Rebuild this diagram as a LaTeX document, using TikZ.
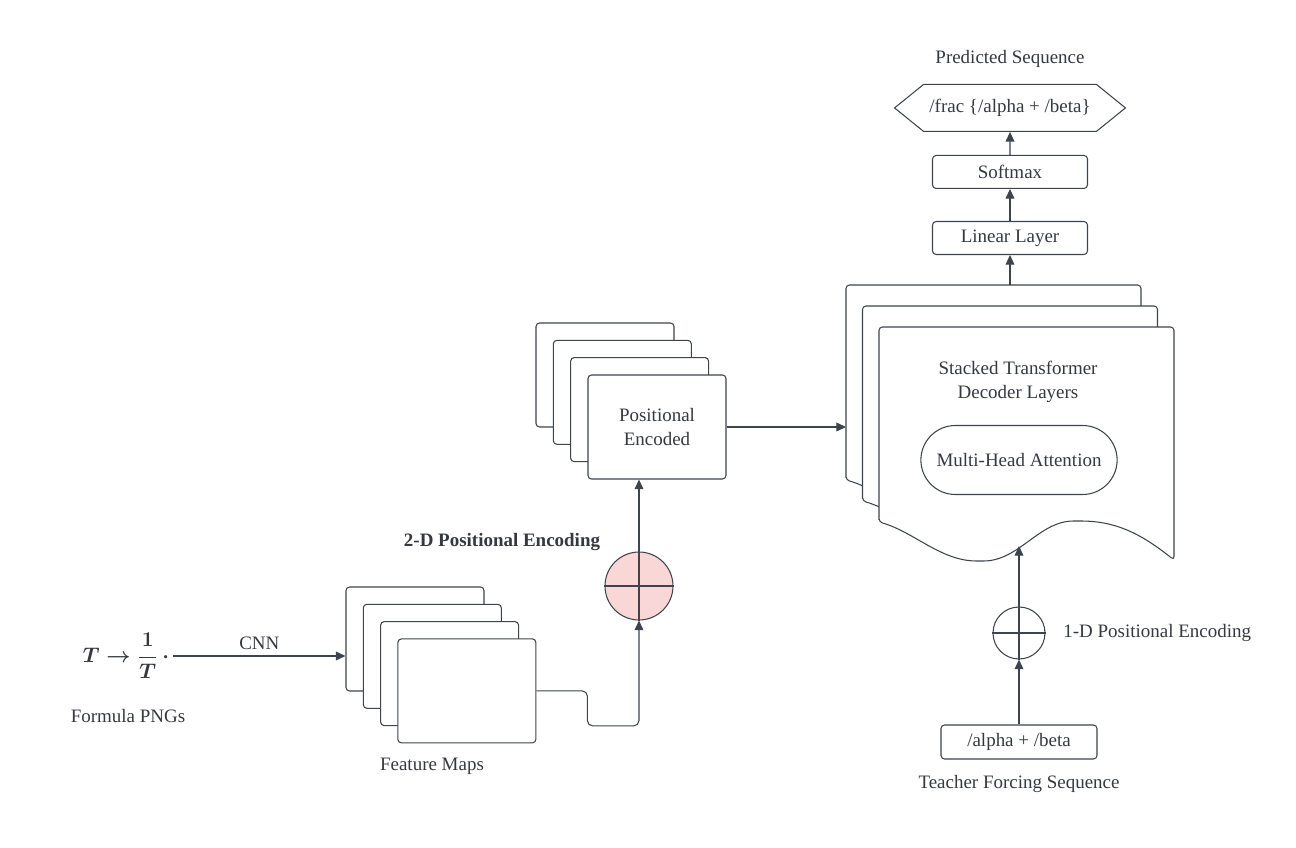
\documentclass[tikz,border=0pt]{standalone}
\usepackage{amsmath}
\usepackage[no-math]{fontspec}
\setmainfont{Liberation Serif}
\usepackage{tikz}
\usetikzlibrary{positioning, arrows.meta, shapes.misc, shapes.symbols}
\usepackage{xcolor}
\definecolor{linecol}{HTML}{3E444D}
\definecolor{txtcol}{HTML}{35393F}
\definecolor{addpink}{HTML}{F9D7D7}

\begin{document}
\begin{tikzpicture}[x=0.02cm, y=-0.02cm, ->, >={Triangle[length=5.5pt,width=5pt]}, semithick, color=linecol,
    every node/.style={font=\fontsize{10.8}{13.5}\selectfont, text=txtcol},
    layer/.style={draw=linecol, fill=white, rounded corners=2pt, minimum width=2.76cm, minimum height=2.08cm, align=center},
    block/.style={draw=linecol, rounded corners=2pt, minimum width=3.1cm, minimum height=0.66cm},
    adder/.style={circle, draw=linecol, inner sep=0pt},
    caption/.style={align=center}]
      \useasboundingbox (0,0) rectangle (1296,848);

      % input formula
      \node[font=\fontsize{12.5}{15}\selectfont, inner sep=2pt] (png) at (126,656) {$\displaystyle \boldsymbol{T \rightarrow \frac{1}{T}\,\cdot}$};
      \node[caption] (pngcap) at (128,716) {Formula PNGs};

      % feature maps
      \foreach \i in {1,...,4}
        \node[layer] (fm\i) at ({415+17.3*(\i-1)}, {639+17.3*(\i-1)}) {};
      \node[caption] (fmcap) at (432,766) {Feature Maps};

      % 2-D encoding
      \node[adder, fill=addpink, minimum size=1.36cm] (add2d) at (639,586) {};
      \draw[-] (add2d.north) -- (add2d.south) (add2d.west) -- (add2d.east);
      \node[caption, font=\fontsize{10.8}{13.5}\selectfont\bfseries] (add2dcap) at (502,542) {2-D Positional Encoding};

      % positional encoded maps
      \foreach \i in {1,2,3}
        \node[layer] (pe\i) at ({605+17.3*(\i-1)}, {375+17.3*(\i-1)}) {};
      \node[layer] (pe4) at (657,427) {Positional\\Encoded};

      % stacked decoder layers
      \foreach \dx/\dy in {0/0, 16.5/21, 33/42}
        \draw[-, fill=white, rounded corners=2pt] ({846+\dx},{285+\dy+195}) -- ({846+\dx},{285+\dy}) -- ({846+\dx+295},{285+\dy}) -- ({846+\dx+295},{285+\dy+233})
          .. controls ({846+\dx+260},{285+\dy+205}) and ({846+\dx+235},{285+\dy+194}) .. ({846+\dx+198},{285+\dy+194})
          .. controls ({846+\dx+160},{285+\dy+194}) and ({846+\dx+140},{285+\dy+234}) .. ({846+\dx+101},{285+\dy+234})
          .. controls ({846+\dx+62},{285+\dy+234}) and ({846+\dx+35},{285+\dy+205}) .. ({846+\dx},{285+\dy+195}) -- cycle;
      \coordinate (decin) at (846,427);
      \coordinate (decbot) at (1019,546);
      \coordinate (dectop) at (1010,285);
      \node[caption] (dectext) at (1018,382) {Stacked Transformer\\Decoder Layers};
      \node[draw=linecol, rounded rectangle, minimum width=4.16cm, minimum height=1.38cm] (mha) at (1019,460) {Multi-Head Attention};

      % output head
      \node[block] (linear) at (1010,238) {Linear Layer};
      \node[block] (softmax) [above=0.64cm of linear] {Softmax};
      \node[draw=linecol, signal, signal to=east and west, signal pointer angle=78, minimum width=4.38cm, minimum height=0.94cm] (pred) [above=0.46cm of softmax] {/frac \{/alpha + /beta\}};
      \node[caption] (predcap) at (1010,59) {Predicted Sequence};

      % teacher forcing input
      \node[block, minimum width=3.12cm, minimum height=0.68cm] (teacher) at (1019,742) {/alpha + /beta};
      \node[caption] (teachcap) at (1019,784) {Teacher Forcing Sequence};
      \node[adder, minimum size=1.04cm] (add1d) at (1019,633) {};
      \draw[-] (add1d.north) -- (add1d.south) (add1d.west) -- (add1d.east);
      \node[anchor=west] (add1dcap) at (1057,633) {1-D Positional Encoding};

      % connectors
      \draw (png.east) -- (png.east -| fm1.west) node[midway, above] {CNN};
      \draw[rounded corners=3pt] (fm4.east) -- ++(51,0) -- ++(0,35) -| (add2d.south);
      \draw (add2d.north) -- (add2d.north |- pe4.south);
      \draw (pe4.east) -- (decin);
      \draw (teacher.north) -- (add1d.south);
      \draw (add1d.north) -- (decbot);
      \path (dectop) edge (linear.south)
            (linear) edge (softmax)
            (softmax) edge (pred);
\end{tikzpicture}
\end{document}
